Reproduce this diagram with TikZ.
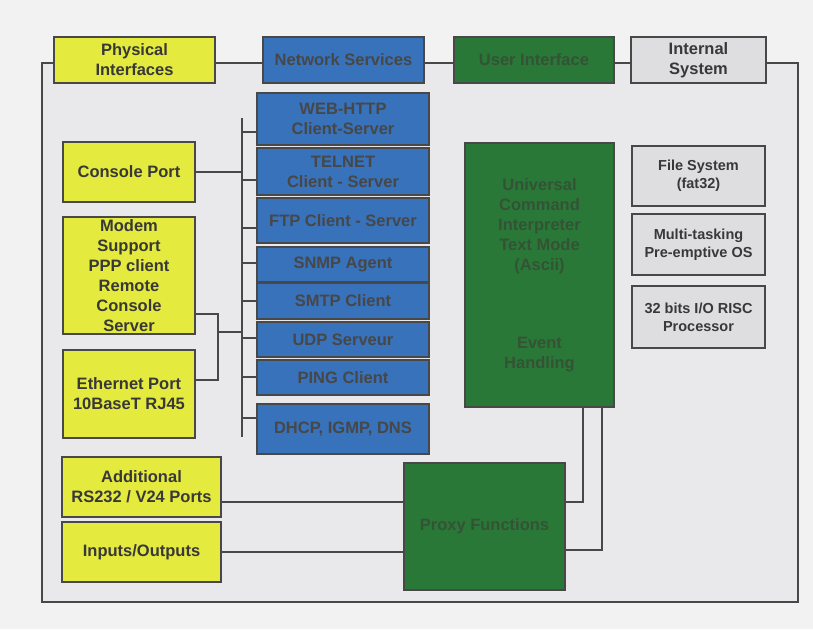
\documentclass[tikz,border=0pt]{standalone}
\usepackage{fontspec}
\setmainfont{Liberation Sans}
\usepackage{xcolor}
\usetikzlibrary{positioning}
\definecolor{physyellow}{RGB}{228,234,62}
\definecolor{netblue}{RGB}{56,114,186}
\definecolor{uigreen}{RGB}{42,120,56}
\definecolor{sysgray}{RGB}{222,222,224}
\definecolor{uitext}{RGB}{52,82,54}
\definecolor{linegray}{RGB}{72,72,72}
\definecolor{paper}{RGB}{242,242,242}
\definecolor{panel}{RGB}{233,233,235}

\begin{document}
\begin{tikzpicture}[x=1pt,y=-1pt,
    box/.style={draw=linegray,line width=1.6pt,align=center,inner sep=0pt,
      font=\fontsize{16.5}{20}\selectfont\bfseries},
    phys/.style={box,fill=physyellow,text=black!78},
    net/.style={box,fill=netblue,text=black!72},
    ui/.style={box,fill=uigreen,text=uitext},
    sys/.style={box,fill=sysgray,text=black!78},
    small/.style={font=\fontsize{14.5}{18}\selectfont\bfseries},
    wire/.style={draw=linegray,line width=1.3pt}]
      \useasboundingbox[fill=paper] (0,0) rectangle (813,629);
      % Outer frame
      \draw[wire,fill=panel] (42,63) rectangle (798,602);
      \coordinate (bustop) at (242,118);
      \coordinate (busbot) at (242,437);
      \coordinate (join) at (218,332);

      % Header boxes
      \node[phys,minimum width=161,minimum height=46] (physical) at (134.5,60) {Physical\\Interfaces};
      \node[net,minimum width=161,minimum height=46] (network) at (343.5,60) {Network Services};
      \node[ui,minimum width=160,minimum height=46] (userif) at (534,60) {User Interface};
      \node[sys,minimum width=135,minimum height=46] (internal) at (698.5,60) {Internal\\System};

      % Physical interfaces
      \node[phys,minimum width=132,minimum height=60] (console) at (129,172) {Console Port};
      \node[phys,minimum width=132,minimum height=117] (modem) at (129,275.5) {Modem\\Support\\PPP client\\Remote\\Console\\Server};
      \node[phys,minimum width=132,minimum height=88] (ethernet) at (129,394) {Ethernet Port\\10BaseT RJ45};
      \node[phys,minimum width=159,minimum height=60] (additional) at (141.5,487) {Additional\\RS232 / V24 Ports};
      \node[phys,minimum width=159,minimum height=60] (inout) at (141.5,552) {Inputs/Outputs};

      % Network services
      \node[net,minimum width=172,minimum height=52] (web) at (343,119) {WEB-HTTP\\Client-Server};
      \node[net,minimum width=172,minimum height=47] (telnet) at (343,171.5) {TELNET\\Client - Server};
      \node[net,minimum width=172,minimum height=45] (ftp) at (343,220.5) {FTP Client - Server};
      \node[net,minimum width=172,minimum height=35] (snmp) at (343,264.5) {SNMP Agent};
      \node[net,minimum width=172,minimum height=36] (smtp) at (343,301) {SMTP Client};
      \node[net,minimum width=172,minimum height=35] (udp) at (343,339.5) {UDP Serveur};
      \node[net,minimum width=172,minimum height=35] (ping) at (343,377.5) {PING Client};
      \node[net,minimum width=172,minimum height=50] (dhcp) at (343,429) {DHCP, IGMP, DNS};

      % User interface
      \node[ui,minimum width=149,minimum height=264] (uci) at (539.5,275) {Universal\\Command\\Interpreter\\Text Mode\\(Ascii)\\[58pt]Event\\Handling};
      \node[ui,minimum width=161,minimum height=127] (proxy) at (484.5,526.5) {Proxy Functions};

      % Internal system
      \node[sys,small,minimum width=133,minimum height=60] (filesys) at (698.5,176) {File System\\(fat32)};
      \node[sys,small,minimum width=133,minimum height=61] (multitask) at (698.5,244.5) {Multi-tasking\\Pre-emptive OS};
      \node[sys,small,minimum width=133,minimum height=62] (risc) at (698.5,317) {32 bits I/O RISC\\Processor};

      % Bus to the network services
      \draw[wire] (bustop) -- (busbot);
      \foreach \n/\d in {web/13,telnet/8.5,ftp/7.5,snmp/-1.5,smtp/0,udp/-1.5,ping/-0.5,dhcp/-11}
        \draw[wire] ([yshift=-\d pt]\n.west) -- ([yshift=-\d pt]\n.west -| bustop);
      \draw[wire] (console.east) -- (console.east -| bustop);
      \draw[wire] ([yshift=-38.5pt]modem.east) -| (join) |- ([yshift=14pt]ethernet.east);
      \draw[wire] (join) -- (join -| bustop);

      % Proxy links
      \draw[wire] ([yshift=-15pt]additional.east) coordinate (a1) -- (a1 -| proxy.west);
      \draw[wire] (inout.east) -- (inout.east -| proxy.west);
      \draw[wire] ([yshift=24.5pt]proxy.east) -| ([xshift=43.5pt]uci.south);
      \draw[wire] ([yshift=-23.5pt]proxy.east) -| ([xshift=62.5pt]uci.south);
\end{tikzpicture}
\end{document}
